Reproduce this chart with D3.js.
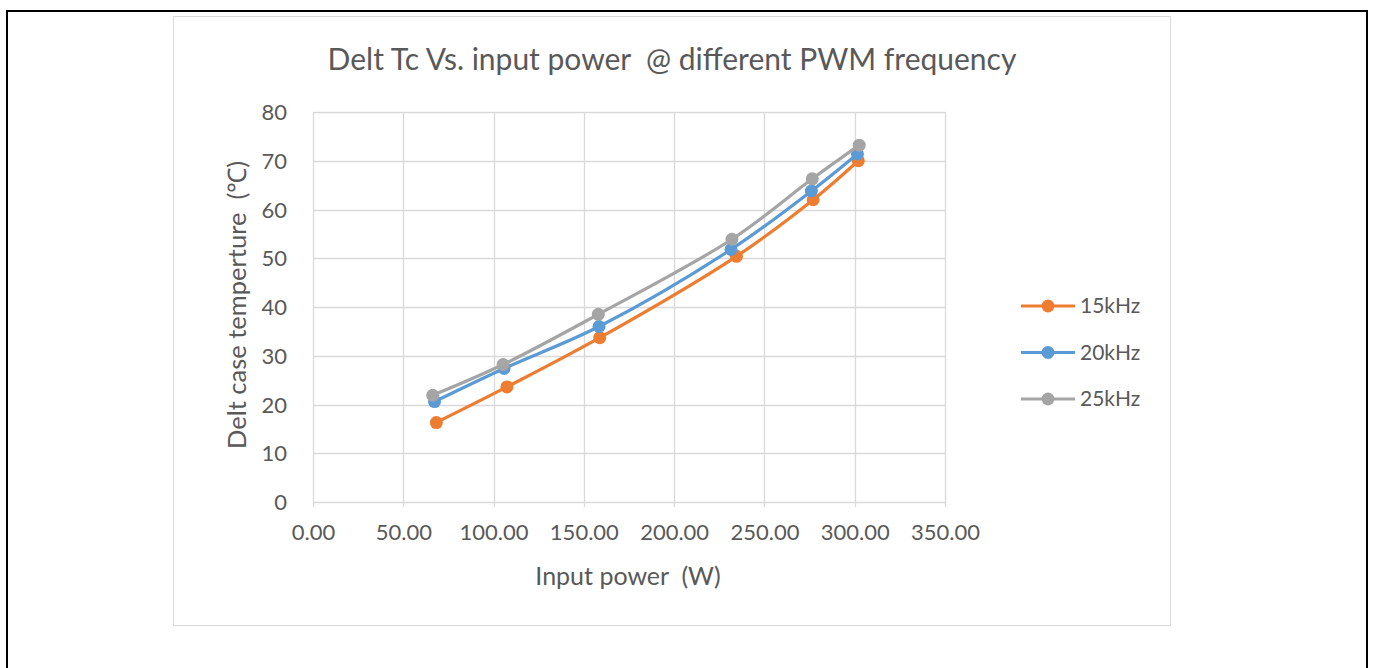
<!DOCTYPE html>
<html>
<head>
<meta charset="utf-8">
<script src="https://cdn.jsdelivr.net/npm/d3@7"></script>
<style>
  body { margin: 0; background: #fff; }
  svg text { font-family: Lato, "Open Sans", sans-serif; fill: #595959; white-space: pre; }
</style>
</head>
<body>
<svg id="drawspace" width="1373" height="668"></svg>
<script>
// data
let power15 = [68.3, 107.4, 158.8, 234.5, 277.0, 302.0];
let temp15  = [16.3, 23.6, 33.7, 50.4, 62.0, 70.0];
let power20 = [67.3, 105.8, 158.4, 231.5, 276.0, 301.5];
let temp20  = [20.6, 27.4, 36.0, 51.8, 63.8, 71.4];
let power25 = [66.3, 105.3, 158.0, 232.0, 276.5, 302.5];
let temp25  = [21.9, 28.2, 38.5, 53.9, 66.3, 73.2];
let seriesNames = ["15kHz", "20kHz", "25kHz"];
let colors = ["#ED7D31", "#5B9BD5", "#A5A5A5"];
let xTicks = [0, 50, 100, 150, 200, 250, 300, 350];
let yTicks = [0, 10, 20, 30, 40, 50, 60, 70, 80];

let ds = d3.select("#drawspace");

// outer frame + chart box
ds.append("path").attr("d", "M7,668 L7,11 L1367,11 L1367,668")
  .attr("fill", "none").attr("stroke", "#000").attr("stroke-width", 2);
ds.append("rect").attr("x", 173.5).attr("y", 16.5).attr("width", 997).attr("height", 609)
  .attr("fill", "#fff").attr("stroke", "#D9D9D9");

let pLeft = 313, pRight = 945, pTop = 112, pBottom = 502;
let xscale = d3.scaleLinear().domain([0, 350]).range([pLeft, pRight]);
let yscale = d3.scaleLinear().domain([0, 80]).range([pBottom, pTop]);

// gridlines
let grid = ds.append("g").attr("stroke", "#D9D9D9").attr("stroke-width", 1.3);
grid.selectAll(".h").data(yTicks).enter().append("line")
  .attr("x1", pLeft).attr("x2", pRight)
  .attr("y1", d => Math.round(yscale(d)) + 0.5).attr("y2", d => Math.round(yscale(d)) + 0.5);
grid.selectAll(".v").data(xTicks).enter().append("line")
  .attr("y1", pTop).attr("y2", pBottom + 5)
  .attr("x1", d => Math.round(xscale(d)) + 0.5).attr("x2", d => Math.round(xscale(d)) + 0.5);

// axes via d3 (lines hidden, labels kept)
let yAxis = ds.append("g").attr("transform", "translate(" + (pLeft - 23) + ",0)")
  .call(d3.axisLeft(yscale).tickValues(yTicks).tickSize(0).tickFormat(d3.format("d")));
let xAxis = ds.append("g").attr("transform", "translate(0," + (pBottom + 20) + ")")
  .call(d3.axisBottom(xscale).tickValues(xTicks).tickSize(0).tickFormat(d3.format(".2f")));
[xAxis, yAxis].forEach(a => {
  a.select(".domain").remove();
  a.selectAll("text").attr("font-size", 22).style("font-family", "Lato, sans-serif").attr("fill", "#595959");
});
yAxis.selectAll("text").attr("dy", "0.35em");
xAxis.selectAll("text").attr("dy", "0.7em");

// titles
ds.append("text").attr("x", 672).attr("y", 70).attr("text-anchor", "middle")
  .attr("font-size", 30).text("Delt Tc Vs. input power  @ different PWM frequency");
ds.append("text").attr("x", 628).attr("y", 585).attr("text-anchor", "middle")
  .attr("font-size", 25).text("Input power  (W)");
ds.append("text").attr("transform", "translate(246,305) rotate(-90)").attr("text-anchor", "middle")
  .attr("font-size", 25.5).text("Delt case temperture  (\u2103)");

// series
let series = [
  power15.map((p, i) => ({x: p, y: temp15[i]})),
  power20.map((p, i) => ({x: p, y: temp20[i]})),
  power25.map((p, i) => ({x: p, y: temp25[i]}))
];
let myLine = d3.line().x(d => xscale(d.x)).y(d => yscale(d.y)).curve(d3.curveCatmullRom.alpha(0.5));
series.forEach((s, k) => {
  ds.append("path").datum(s).attr("d", myLine).attr("fill", "none")
    .attr("stroke", colors[k]).attr("stroke-width", 3.2);
  ds.append("g").selectAll("circle").data(s).enter().append("circle")
    .attr("cx", d => xscale(d.x)).attr("cy", d => yscale(d.y))
    .attr("r", 6.5).attr("fill", colors[k]);
});

// legend
seriesNames.forEach((name, k) => {
  let g = ds.append("g").attr("transform", "translate(1021," + (306 + k * 46.5) + ")");
  g.append("line").attr("x1", 0).attr("x2", 54).attr("stroke", colors[k]).attr("stroke-width", 3.2);
  g.append("circle").attr("cx", 27).attr("r", 6.5).attr("fill", colors[k]);
  g.append("text").attr("x", 59).attr("dy", "0.35em").attr("font-size", 21).text(name);
});
</script>
</body>
</html>
